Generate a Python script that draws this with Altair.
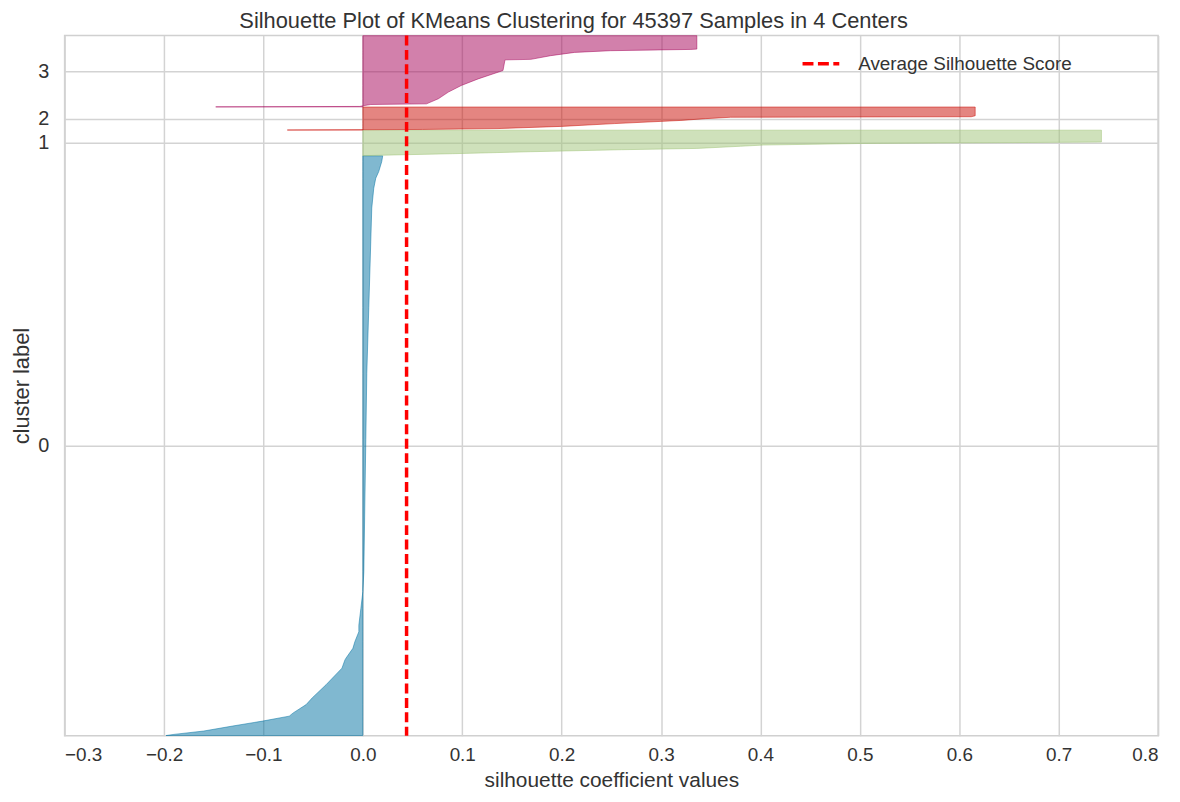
import altair as alt
import pandas as pd

# ---------------- data ----------------
N_SAMPLES = 45397
AVG_SCORE = 0.044
cluster_ids = [0, 1, 2, 3]
cluster_sizes = [37626, 1657, 1493, 4621]
cluster_colors = ["#0272a2", "#9fc377", "#ca0b03", "#a50258"]

# sorted silhouette values of each cluster, read at rank fractions (0 = lowest)
c0_rank = [0.0, 0.002, 0.0078, 0.0164, 0.0249, 0.0335, 0.0391, 0.0534, 0.0648, 0.0876,
           0.1162, 0.1305, 0.1334, 0.1505, 0.162, 0.1791, 0.1904, 0.219, 0.2482, 0.2824,
           0.396, 0.5103, 0.6251, 0.7387, 0.853, 0.91, 0.9443, 0.9614, 0.9729, 0.99, 1.0]
c0_vals = [-0.198, -0.19, -0.16, -0.131, -0.101, -0.074, -0.070, -0.057, -0.051, -0.037,
           -0.021, -0.018, -0.017, -0.010, -0.008, -0.004, -0.004, -0.002, 0.0, 0.001,
           0.002, 0.003, 0.004, 0.006, 0.008, 0.009, 0.011, 0.013, 0.016, 0.019, 0.020]

c1_rank = [0.0, 0.020, 0.078, 0.156, 0.234, 0.285, 0.370, 0.417, 0.479, 0.518, 0.537, 1.0]
c1_vals = [0.0, 0.02, 0.09, 0.169, 0.26, 0.336, 0.38, 0.403, 0.503, 0.67, 0.743, 0.743]

c2_rank = [0.0, 0.011, 0.024, 0.063, 0.158, 0.279, 0.417, 0.495, 0.555, 0.577, 0.62, 1.0]
c2_vals = [-0.076, -0.002, 0.06, 0.136, 0.20, 0.253, 0.32, 0.345, 0.37, 0.612, 0.616, 0.616]

c3_rank = [0.0, 0.006, 0.0145, 0.033, 0.042, 0.114, 0.207, 0.300, 0.393, 0.510, 0.660,
           0.667, 0.719, 0.765, 0.789, 0.807, 0.811, 1.0]
c3_vals = [-0.148, -0.003, 0.0, 0.008, 0.064, 0.076, 0.086, 0.099, 0.116, 0.141, 0.143,
           0.169, 0.189, 0.213, 0.249, 0.33, 0.336, 0.336]

x_ticks = [-0.3, -0.2, -0.1, 0.0, 0.1, 0.2, 0.3, 0.4, 0.5, 0.6, 0.7, 0.8]
GAP = 10

profiles = [(c0_rank, c0_vals), (c1_rank, c1_vals), (c2_rank, c2_vals), (c3_rank, c3_vals)]

# ---------------- build table (yellowbrick-style stacking) ----------------
rows = []
label_pos = []
y_lower = GAP
for cid, size, (rk, vals) in zip(cluster_ids, cluster_sizes, profiles):
    for f, v in zip(rk, vals):
        rows.append({"cluster": str(cid), "y": y_lower + f * size, "v": v})
    label_pos.append(y_lower + 0.5 * size)
    y_lower += size + GAP
df = pd.DataFrame(rows).sort_values(["cluster", "y"]).reset_index(drop=True)
y_max = N_SAMPLES + (len(cluster_ids) + 1) * GAP

# label expression mapping tick positions to cluster ids
expr = "'%s'" % cluster_ids[-1]
for i in range(len(label_pos) - 2, -1, -1):
    mid = (label_pos[i] + label_pos[i + 1]) / 2
    expr = "datum.value < %f ? '%s' : (%s)" % (mid, cluster_ids[i], expr)

FONT = "Liberation Sans"
TXT = "#333333"
cl_domain = [str(c) for c in cluster_ids]

areas = alt.Chart(df).mark_area(
    orient="horizontal", fillOpacity=0.5, strokeOpacity=0.5, strokeWidth=1
).encode(
    y=alt.Y("y:Q", scale=alt.Scale(domain=[0, y_max], nice=False),
            axis=alt.Axis(values=label_pos, labelExpr=expr, title="cluster label",
                          grid=True, ticks=False, tickSize=0, domain=False,
                          labelFontSize=20, labelPadding=16, titleFontSize=22,
                          titlePadding=4)),
    x=alt.X("v:Q", stack=None, scale=alt.Scale(domain=[-0.3, 0.8], nice=False),
            axis=alt.Axis(values=x_ticks, format=".1f", title="silhouette coefficient values",
                          grid=True, ticks=False, tickSize=0, domain=False,
                          labelFontSize=19, labelPadding=10, titleFontSize=21,
                          titleY=51, titleBaseline="alphabetic")),
    fill=alt.Fill("cluster:N", scale=alt.Scale(domain=cl_domain, range=cluster_colors),
                  legend=None),
    stroke=alt.Stroke("cluster:N", scale=alt.Scale(domain=cl_domain, range=cluster_colors),
                      legend=None),
)

avg_df = pd.DataFrame({"v": [AVG_SCORE], "label": ["Average Silhouette Score"]})
rule = alt.Chart(avg_df).mark_rule(strokeDash=[10, 4.5], strokeWidth=3.5).encode(
    x="v:Q",
    color=alt.Color("label:N", scale=alt.Scale(range=["#ff0000"]),
                    legend=alt.Legend(title=None, orient="none", legendX=741, legendY=8,
                                      symbolType="stroke", symbolStrokeWidth=3.5,
                                      symbolDash=[11, 4.5], symbolSize=1369,
                                      labelFontSize=19, labelFont=FONT, labelColor=TXT,
                                      labelOffset=17, labelLimit=0, padding=0)),
)

chart = alt.layer(areas, rule).properties(
    width=1101, height=705,
    autosize=alt.AutoSizeParams(type="none"),
    padding={"left": 57, "top": 25, "right": 14, "bottom": 56},
    title=alt.TitleParams("Silhouette Plot of KMeans Clustering for 45397 Samples in 4 Centers",
                          fontSize=22, font=FONT, color=TXT, fontWeight="normal",
                          anchor="middle", dx=-38, offset=1),
).configure_view(stroke="#d0d0d0", strokeWidth=1.5).configure_axis(
    gridColor="#d3d3d3", gridWidth=1.5, labelFont=FONT, titleFont=FONT,
    labelColor=TXT, titleColor=TXT, titleFontWeight="normal"
)

chart.save("out.html", embed_options={"renderer": "svg", "actions": False})
